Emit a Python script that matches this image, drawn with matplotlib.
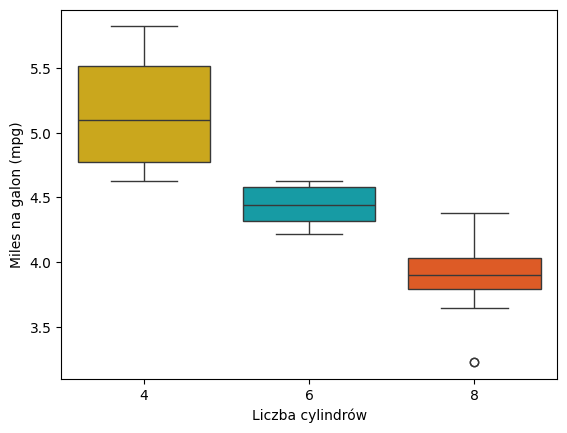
import matplotlib
matplotlib.use("Agg")
import matplotlib.pyplot as plt
import seaborn as sns
import pandas as pd

cyl_labels = ["4", "6", "8"]
mpg_sqrt_4 = [4.775, 4.940, 4.775, 5.692, 5.514, 5.822, 4.637, 5.225, 5.099, 5.514, 4.626]
mpg_sqrt_6 = [4.583, 4.583, 4.626, 4.254, 4.382, 4.219, 4.438]
mpg_sqrt_8 = [4.324, 3.782, 4.050, 4.159, 3.899, 3.225, 3.225, 3.834, 3.937, 3.899,
              3.647, 4.382, 3.975, 3.873]
palette = ["#E7B800", "#00AFBB", "#FC4E07"]

df = pd.DataFrame({
    "cyl": ["4"] * len(mpg_sqrt_4) + ["6"] * len(mpg_sqrt_6) + ["8"] * len(mpg_sqrt_8),
    "val": mpg_sqrt_4 + mpg_sqrt_6 + mpg_sqrt_8,
})

fig, ax = plt.subplots(figsize=(6.4, 4.8), dpi=100)
sns.boxplot(data=df, x="cyl", y="val", hue="cyl", order=cyl_labels, hue_order=cyl_labels,
            palette=palette, legend=False, ax=ax)
ax.set_xlabel("Liczba cylindrów")
ax.set_ylabel("Miles na galon (mpg)")
fig.savefig("out.png", bbox_inches="tight")
